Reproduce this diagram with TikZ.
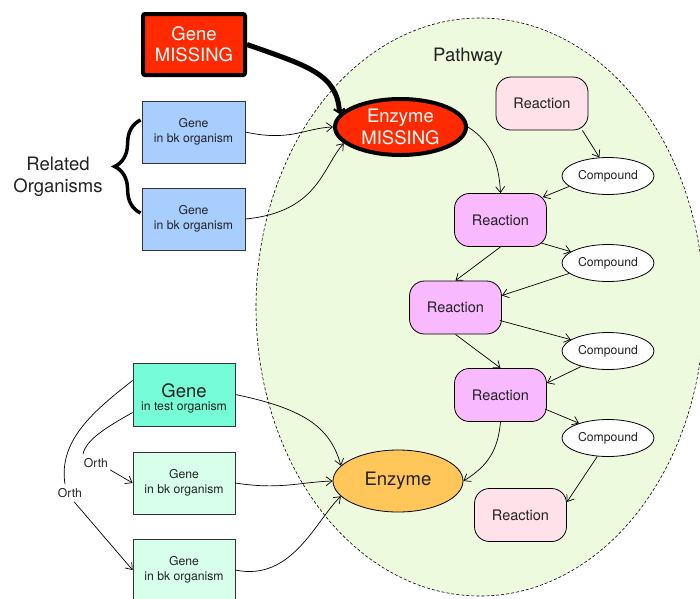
\documentclass[tikz,border=0pt]{standalone}
\usepackage{fontspec}
\setmainfont{TeX Gyre Heros}
\usetikzlibrary{arrows.meta,shapes.geometric,decorations.pathreplacing}

\definecolor{missred}{HTML}{FF2A00}
\definecolor{relblue}{HTML}{A8CEFF}
\definecolor{testgreen}{HTML}{76FCD6}
\definecolor{mint}{HTML}{D8FFEC}
\definecolor{pathfill}{HTML}{EEFADE}
\definecolor{rxnlight}{HTML}{FFE1EA}
\definecolor{rxnmag}{HTML}{F8B9FF}
\definecolor{enzorange}{HTML}{FFC75A}
\definecolor{ink}{HTML}{222222}
\definecolor{edge}{HTML}{333333}

\newcommand{\bigfont}{\fontsize{18.5}{21.5}\selectfont}
\newcommand{\midfont}{\fontsize{14.5}{17}\selectfont}
\newcommand{\smallfont}{\fontsize{12.2}{14.5}\selectfont}

\tikzset{
  every node/.style={text=ink},
  genebox/.style={rectangle, draw=edge, line width=0.8pt, minimum width=102pt,
    minimum height=62pt, inner sep=0pt, align=center, font=\smallfont},
  missbox/.style={rectangle, rounded corners=2pt, draw=black, line width=4pt,
    fill=missred, text=white, minimum width=102pt, minimum height=61pt,
    inner sep=0pt, align=center, font=\bigfont},
  rxn/.style={rectangle, rounded corners=15pt, draw=black, line width=0.8pt,
    minimum width=92pt, minimum height=53pt, inner sep=0pt, font=\midfont},
  cpd/.style={ellipse, draw=black, line width=0.8pt, fill=white,
    minimum width=92pt, minimum height=37pt, inner sep=0pt, font=\smallfont},
  link/.style={draw=black, line width=0.7pt, -{Straight Barb[length=6pt,width=9pt]}},
  orthlbl/.style={font=\smallfont, inner sep=4pt},
}

\begin{document}
\begin{tikzpicture}[x=1pt,y=-1pt]
\useasboundingbox (0,0) rectangle (700,598);
\clip (0,0) rectangle (700,598);

% pathway region
\draw[fill=pathfill, draw=black, line width=0.6pt, dash pattern=on 3pt off 2pt]
  (480,307) ellipse [x radius=224pt, y radius=289pt];
\node (pw) at (468,57) {\bigfont Pathway};

% genes of related organisms
\node[missbox] (gm) at (194,44.5) {Gene\\MISSING};
\node[genebox, fill=relblue, minimum width=103pt] (b1) at (193.5,132) {Gene\\in bk organism};
\node[genebox, fill=relblue, minimum width=103pt] (b2) at (193.5,219) {Gene\\in bk organism};
\node[align=center, font=\fontsize{18.5}{22.5}\selectfont] (rel) at (58,177) {Related\\Organisms};
\draw[line width=3.5pt, decorate, decoration={brace, amplitude=26pt, aspect=0.5}]
  ([shift={(-1pt,6pt)}]b2.west) -- ([shift={(-1pt,12pt)}]b1.west);

% enzymes
\node[ellipse, draw=black, line width=4pt, fill=missred, text=white, align=center,
  minimum width=131pt, minimum height=56pt, inner sep=0pt, font=\bigfont]
  (em) at (400.5,127) {Enzyme\\MISSING};
\node[ellipse, draw=black, line width=0.8pt, fill=enzorange, minimum width=130pt,
  minimum height=62pt, inner sep=0pt, font=\bigfont] (enz) at (398,481) {Enzyme};

% genes of the test organism
\node[genebox, fill=testgreen, minimum height=63pt] (gt) at (184,394.5)
  {{\bigfont\rule{0pt}{22pt}Gene}\\[-1pt]in test organism};
\node[genebox, fill=mint] (g1) at (184,483) {Gene\\in bk organism};
\node[genebox, fill=mint] (g2) at (184,570) {Gene\\in bk organism};

% reactions and compounds
\node[rxn, fill=rxnlight] (r1) at (542,103.5) {Reaction};
\node[rxn, fill=rxnmag] (r2) at (500.5,220) {Reaction};
\node[rxn, fill=rxnmag] (r3) at (455.5,307.5) {Reaction};
\node[rxn, fill=rxnmag] (r4) at (500.5,395) {Reaction};
\node[rxn, fill=rxnlight] (r5) at (520.5,515) {Reaction};
\node[cpd] (c1) at (608,176) {Compound};
\node[cpd] (c2) at (608,263) {Compound};
\node[cpd] (c3) at (608,351) {Compound};
\node[cpd] (c4) at (608,438) {Compound};

% orthology labels
\node[orthlbl] (oa) at (96,463) {Orth};
\node[orthlbl] (ob) at (70,493) {Orth};

% missing gene to missing enzyme
\draw[line width=5pt, -{Straight Barb[length=4pt,width=11pt,line width=2pt]}]
  (gm.east) .. controls (308,66) and (337,74) .. (em.168);

% related genes to missing enzyme
\draw[link] (b1.east) .. controls (290,142) and (305,128) .. (em.west);
\draw[link] (b2.east) .. controls (318,212) and (322,168) .. (em.196);

% pathway edges
\draw[link] (em.east) .. controls (492,142) and (499,165) .. (r2.north);
\draw[link] ([xshift=-6pt]r1.south east) -- (c1.115);
\draw[link] (c1.195) -- ([shift={(-4pt,-4pt)}]r2.north east);
\draw[link] ([shift={(-6pt,4pt)}]r2.south east) -- (c2.163);
\draw[link] (r2.south) -- (r3.north);
\draw[link] (c2.195) -- ([yshift=12pt]r3.east);
\draw[link] ([shift={(-2pt,-13pt)}]r3.east) -- (c3.163);
\draw[link] (r3.south) -- (r4.north);
\draw[link] (c3.210) -- ([yshift=12pt]r4.east);
\draw[link] ([shift={(-2pt,-14pt)}]r4.east) -- (c4.153);
\draw[link] (c4.240) -- ([yshift=13pt]r5.east);
\draw[link] (r4.south) .. controls (498,450) and (488,466) .. (enz.east);

% test organism genes to enzyme
\draw[link] (gt.east) .. controls (300,408) and (330,425) .. (enz.165);
\draw[link] (g1.east) .. controls (280,490) and (300,482) .. (enz.west);
\draw[link] (g2.east) .. controls (292,582) and (316,520) .. (enz.195);

% orthology relations
\draw[line width=0.7pt] ([yshift=14pt]gt.west) .. controls (95,410) and (58,440) .. ([xshift=-5pt]ob.north);
\draw[line width=0.7pt] ([yshift=-18pt]gt.west) .. controls (105,428) and (86,440) .. ([xshift=-13pt]oa.north);
\draw[link] ([shift={(-2pt,2pt)}]oa.south east) -- (g1.west);
\draw[link] ([xshift=-12pt]ob.south east) -- (g2.west);
\end{tikzpicture}
\end{document}
